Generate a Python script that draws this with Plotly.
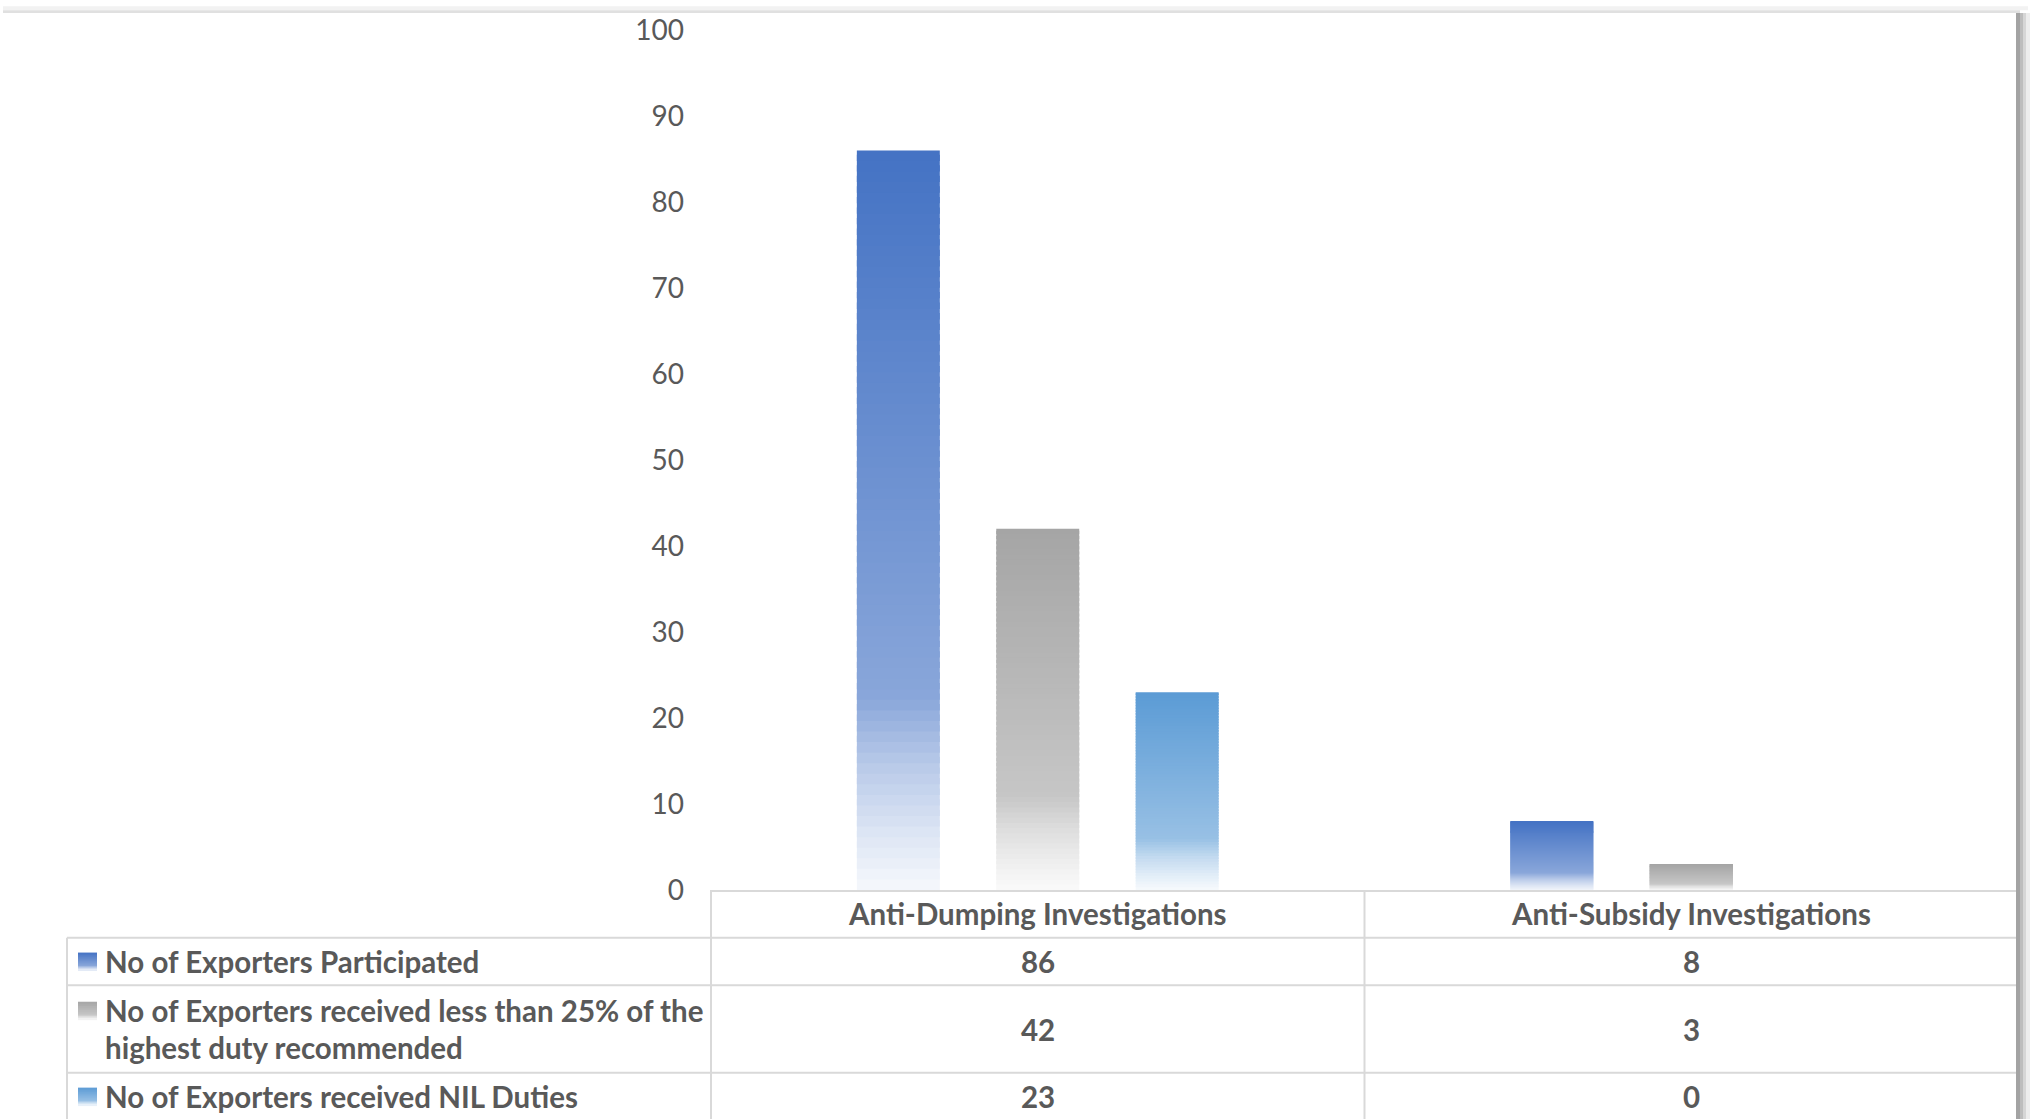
import plotly.graph_objects as go

# ---- data ----
categories = ["Anti-Dumping Investigations", "Anti-Subsidy Investigations"]
series_names = [
    "No of Exporters Participated",
    "No of Exporters received less than 25% of the highest duty recommended",
    "No of Exporters received NIL Duties",
]
# row labels as shown in the data table (second label wraps onto two lines)
row_label_lines = [
    ["No of Exporters Participated"],
    ["No of Exporters received less than 25% of the", "highest duty recommended"],
    ["No of Exporters received NIL Duties"],
]
participated = [86, 8]
less_than_25 = [42, 3]
nil_duties = [23, 0]
series_values = [participated, less_than_25, nil_duties]
series_colors = ["#4472C4", "#A5A5A5", "#5B9BD5"]
y_ticks = [0, 10, 20, 30, 40, 50, 60, 70, 80, 90, 100]

# ---- geometry (pixels) ----
W, H = 2032, 1119
L, R, T, B = 711, 14, 24, 229
PW = W - L - R
PH = H - T - B
AXIS_Y = T + PH  # pixel row of the value 0 baseline

TEXT = "#595959"
GRID = "#d9d9d9"


def px_x(px):
    return (px - L) / PW


def px_y(py):
    return (AXIS_Y - py) / PH


def hex_rgb(h):
    h = h.lstrip("#")
    return tuple(int(h[i:i + 2], 16) for i in (0, 2, 4))


# white-blend amount as a function of the distance from the top of a bar (0..1)
GRAD_STOPS = [(0.0, 0.0), (0.74, 0.37), (0.83, 0.62), (0.92, 0.81), (1.0, 0.95)]


def blend(f):
    for (f0, t0), (f1, t1) in zip(GRAD_STOPS, GRAD_STOPS[1:]):
        if f <= f1:
            return t0 + (t1 - t0) * (f - f0) / (f1 - f0)
    return GRAD_STOPS[-1][1]


def grad_color(base_hex, f):
    r, g, b = hex_rgb(base_hex)
    t = blend(f)
    return "rgb({},{},{})".format(
        round(r + (255 - r) * t), round(g + (255 - g) * t), round(b + (255 - b) * t)
    )


fig = go.Figure()

# Each bar is built from thin stacked slices so it can carry a vertical gradient.
N = 70
for name, vals, col in zip(series_names, series_values, series_colors):
    xs, ys, bases, cols, cd = [], [], [], [], []
    for cat, v in zip(categories, vals):
        if v <= 0:
            # keep the slot in the group even when the value is zero
            xs.append(cat); ys.append(0); bases.append(0); cols.append(col); cd.append(v)
            continue
        seg = v / N
        for k in range(N):
            b0 = k * seg
            top = min(v, (k + 1.6) * seg)
            f = 1 - (k + 0.5) / N
            xs.append(cat)
            ys.append(top - b0)
            bases.append(b0)
            cols.append(grad_color(col, f))
            cd.append(v)
    fig.add_trace(go.Bar(
        x=xs, y=ys, base=bases, name=name,
        marker=dict(color=cols, line=dict(width=0)),
        customdata=cd,
        hovertemplate="%{x}<br>" + name + ": %{customdata}<extra></extra>",
        showlegend=False,
    ))

shapes = []
annotations = []


def hline(py, x0, x1, color=GRID, width=2):
    shapes.append(dict(type="line", xref="paper", yref="paper",
                       x0=px_x(x0), x1=px_x(x1), y0=px_y(py), y1=px_y(py),
                       line=dict(color=color, width=width), layer="above"))


def vline(px, y0, y1, color=GRID, width=2):
    shapes.append(dict(type="line", xref="paper", yref="paper",
                       x0=px_x(px), x1=px_x(px), y0=px_y(y0), y1=px_y(y1),
                       line=dict(color=color, width=width), layer="above"))


def rect(x0, y0, x1, y1, color):
    shapes.append(dict(type="rect", xref="paper", yref="paper",
                       x0=px_x(x0), x1=px_x(x1), y0=px_y(y0), y1=px_y(y1),
                       fillcolor=color, line=dict(width=0), layer="above"))


# ---- data table under the plot ----
TABLE_LEFT = 67
TABLE_RIGHT = L + PW
HEADER_BOTTOM = 938
ROW_BOUNDS = [(938, 986), (986, 1074), (1074, 1122)]
COL_SPLIT = L + PW / 2

for py in (HEADER_BOTTOM, 986, 1074):
    hline(py, TABLE_LEFT, TABLE_RIGHT)
vline(TABLE_LEFT, HEADER_BOTTOM, H + 2)
for px in (L, COL_SPLIT, TABLE_RIGHT):
    vline(px, AXIS_Y, H + 2)

bold = dict(family="Lato", size=29.5, color=TEXT, weight="bold")

# column headers
for cat in categories:
    annotations.append(dict(x=cat, xref="x", y=px_y((AXIS_Y + HEADER_BOTTOM) / 2), yref="paper",
                            text=cat, showarrow=False, xanchor="center", yanchor="middle",
                            font=bold))

# row labels, legend keys and values
LINE_GAP = 37
for (y0, y1), lines, vals, col in zip(ROW_BOUNDS, row_label_lines, series_values, series_colors):
    mid = (y0 + y1) / 2
    first = mid - LINE_GAP * (len(lines) - 1) / 2
    for i, line in enumerate(lines):
        annotations.append(dict(x=px_x(103), xref="paper", y=px_y(first + i * LINE_GAP), yref="paper",
                                text=line, showarrow=False, xanchor="left", yanchor="middle",
                                font=bold))
    # gradient key square
    k_top, k_h, steps = first - 9, 18, 9
    for s in range(steps):
        rect(78, k_top + s * k_h / steps, 97, k_top + (s + 1) * k_h / steps + 0.6,
             grad_color(col, (s + 0.5) / steps))
    for cat, v in zip(categories, vals):
        annotations.append(dict(x=cat, xref="x", y=px_y(mid), yref="paper",
                                text=str(v), showarrow=False, xanchor="center", yanchor="middle",
                                font=bold))

# ---- chart-area frame shading (top edge and right edge) ----
rect(3, 0, 2028, 4, "#f2f2f2")
rect(3, 4, 2020, 7, "#e0e0e0")
rect(2016, 7, 2020, H + 2, "#a3a3a3")
rect(2020, 7, 2023, H + 2, "#bdbdbd")
rect(2023, 7, 2026, H + 2, "#d6d6d6")
rect(2026, 7, 2030, H + 2, "#ededed")

fig.update_layout(
    width=W, height=H,
    margin=dict(l=L, r=R, t=T, b=B, pad=0),
    paper_bgcolor="white", plot_bgcolor="white",
    barmode="group", bargap=0.36, bargroupgap=0.405,
    shapes=shapes, annotations=annotations,
    font=dict(family="Lato", color=TEXT),
)
fig.update_xaxes(
    type="category", categoryorder="array", categoryarray=categories,
    range=[-0.5, 1.5], showticklabels=False, ticks="", showgrid=False, zeroline=False,
    showline=True, linecolor=GRID, linewidth=2,
)
fig.update_yaxes(
    range=[0, 100], tickvals=y_ticks, ticktext=[str(v) for v in y_ticks],
    showgrid=False, zeroline=False, showline=False, ticks="",
    tickfont=dict(family="Lato", size=28, color=TEXT), ticklabelstandoff=26,
)

fig.write_html("out.html")
